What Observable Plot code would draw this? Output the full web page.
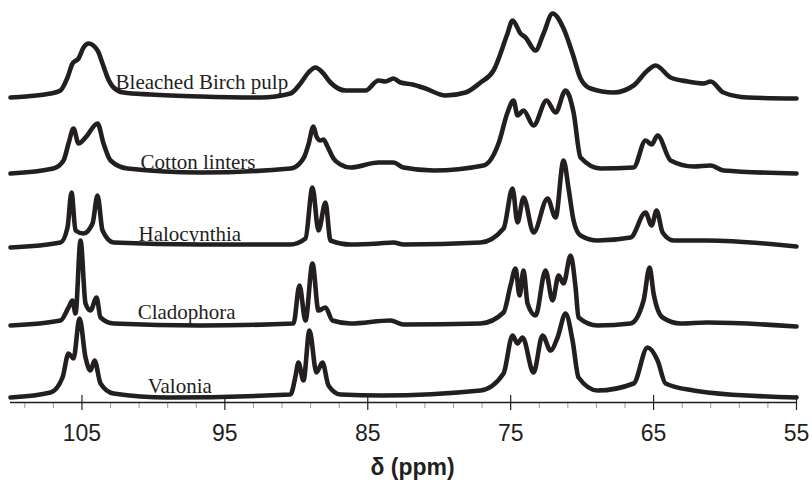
<!DOCTYPE html>
<html><head><meta charset="utf-8">
<script src="https://cdn.jsdelivr.net/npm/d3@7"></script>
<script src="https://cdn.jsdelivr.net/npm/@observablehq/plot@0.6"></script>
<style>body{margin:0;background:#fff}</style>
</head><body><div id="chart"></div>
<script>
const names = ["Bleached Birch pulp", "Cotton linters", "Halocynthia", "Cladophora", "Valonia"];
const birch = [[110,0],[107.2,4],[106.5,7],[106.01,20],[105.66,34],[105.24,39],[104.89,50],[104.54,54],[103.91,47],[103.56,34],[103.21,20],[102.79,10],[102.09,5],[100.2,3],[96.7,1],[92.5,0],[90.41,4],[89.71,14],[89.15,25],[88.66,30],[88.17,25],[87.61,15],[86.56,7],[85.16,7],[84.25,17],[83.76,16],[83.2,19],[82.71,15],[81.87,13],[80.96,9],[79.56,2],[78.16,5],[77.11,15],[76.2,27],[75.22,64],[74.87,77],[74.31,64],[73.96,60],[73.26,47],[72.7,64],[72.07,84],[71.3,69],[70.67,44],[70.11,19],[69.41,9],[67.8,5],[66.4,12],[65.42,27],[64.86,32],[63.81,20],[62.62,16],[61.5,14],[61.01,16],[60.11,5],[58.43,0],[55,-1]];
const cotton = [[110,-1],[107.0,4],[106.29,12],[105.94,29],[105.59,44],[105.24,29],[104.75,35],[103.91,49],[103.49,29],[103.0,12],[101.81,4],[96.7,0],[90.41,4],[89.71,10],[89.43,16],[89.15,28],[88.8,46],[88.59,36],[88.31,32],[88.1,33],[87.82,26],[87.4,14],[86.91,8],[86.21,5],[84.25,10],[83.2,10],[82.5,5],[80.4,2],[76.9,7],[75.85,29],[75.22,60],[74.8,72],[74.52,57],[74.1,62],[73.4,47],[72.49,72],[71.86,60],[71.16,82],[70.6,60],[70.11,15],[68.71,4],[66.4,5],[65.56,32],[65.14,28],[64.72,37],[63.81,12],[62.2,6],[61.01,7],[60.11,2],[55,-1]];
const halocynthia = [[110,-2],[106.5,3],[106.01,18],[105.73,53],[105.45,15],[104.89,12],[104.26,22],[103.91,50],[103.56,15],[102.79,3],[96.7,1],[90.41,1],[89.36,7],[88.87,58],[88.45,15],[87.96,43],[87.61,5],[86.21,1],[84.25,2],[83.2,3],[82.5,1],[77.11,3],[75.5,17],[74.87,57],[74.52,23],[74.1,48],[73.4,13],[72.42,47],[71.86,28],[71.3,85],[70.95,57],[70.6,25],[70.11,10],[68.92,5],[66.61,8],[65.56,33],[65.14,20],[64.79,35],[64.37,13],[63.6,5],[61.22,5],[55,-1]];
const cladophora = [[110,0],[106.5,5],[105.94,18],[105.66,25],[105.45,12],[105.1,85],[104.75,22],[104.4,15],[103.98,28],[103.7,8],[102.79,2],[96.7,0],[90.2,2],[89.78,40],[89.36,5],[88.87,62],[88.45,15],[87.96,18],[87.47,5],[86.21,2],[83.41,5],[82.5,1],[77.11,2],[75.5,13],[75.01,40],[74.66,57],[74.38,30],[74.1,55],[73.82,22],[73.26,10],[72.56,55],[72.07,25],[71.65,50],[71.3,42],[70.81,70],[70.46,38],[70.25,8],[68.92,0],[66.61,2],[65.7,25],[65.28,58],[65.0,32],[64.37,8],[63.11,2],[61.22,3],[55,-1]];
const valonia = [[110,-1],[107.2,4],[106.36,19],[105.94,43],[105.59,38],[105.17,78],[104.75,39],[104.4,26],[104.12,36],[103.7,13],[102.79,3],[99.01,-1],[90.41,2],[90.06,20],[89.85,34],[89.5,16],[89.08,66],[88.59,24],[88.17,34],[87.75,11],[86.91,2],[84,1],[77.11,6],[75.5,23],[74.87,61],[74.52,53],[74.17,59],[73.4,24],[72.77,61],[72.21,46],[71.72,59],[71.16,83],[70.67,56],[70.25,19],[68.92,6],[66.4,13],[65.42,49],[64.72,36],[64.16,13],[62.2,6],[61.22,4],[55,-1]];
const spectra = [birch, cotton, halocynthia, cladophora, valonia];
const majorTicks = [105, 95, 85, 75, 65, 55];
const minorTicks = [109, 107, 103, 101, 99, 97, 93, 91, 89, 87, 83, 81, 79, 77, 73, 71, 69, 67, 63, 61, 59, 57];
const axisLabel = "δ (ppm)";

// vertical stacking offsets of each trace and label placement (layout)
const offsets = [305, 230, 157, 77, 6];
const labelX = [102.65, 100.9, 101.04, 101.1, 100.4];
const labelY = [314, 234, 162, 84, 10];

const rows = names.flatMap((n, i) => spectra[i].map(([ppm, v]) => ({name: n, ppm, y: offsets[i] + v})));
const labels = names.map((n, i) => ({name: n, x: labelX[i], y: labelY[i]}));
const ink = "#231f20";

const chart = Plot.plot({
  width: 812, height: 480,
  marginLeft: 10, marginRight: 16, marginTop: 0, marginBottom: 78,
  x: {domain: [110, 55], axis: null},
  y: {domain: [0, 402], axis: null},
  style: {background: "#fff"},
  marks: [
    Plot.line(rows, {x: "ppm", y: "y", z: "name", stroke: ink, strokeWidth: 4.6, curve: "monotone-x", strokeLinejoin: "round", strokeLinecap: "round"}),
    Plot.text(labels, {x: "x", y: "y", text: "name", textAnchor: "start", lineAnchor: "bottom", fontFamily: "'Liberation Serif', 'Times New Roman', serif", fontSize: 21, fill: ink}),
    Plot.ruleX(minorTicks, {y1: 0, y2: -6, stroke: "#999", strokeWidth: 1}),
    Plot.ruleX(majorTicks, {y1: 7, y2: -8, stroke: ink, strokeWidth: 1.2}),
    Plot.ruleY([0], {stroke: ink, strokeWidth: 1.3}),
    Plot.text(majorTicks, {x: d => d, y: -38, text: d => String(d), textAnchor: "middle", lineAnchor: "bottom", fontFamily: "'Liberation Sans', Arial, sans-serif", fontSize: 23, fill: ink}),
    Plot.text([axisLabel], {frameAnchor: "bottom", dx: 9, dy: 72, text: d => d, lineAnchor: "bottom", fontFamily: "'Liberation Sans', Arial, sans-serif", fontWeight: "bold", fontSize: 23, fill: ink})
  ]
});
document.getElementById("chart").appendChild(chart);
</script>
</body></html>
